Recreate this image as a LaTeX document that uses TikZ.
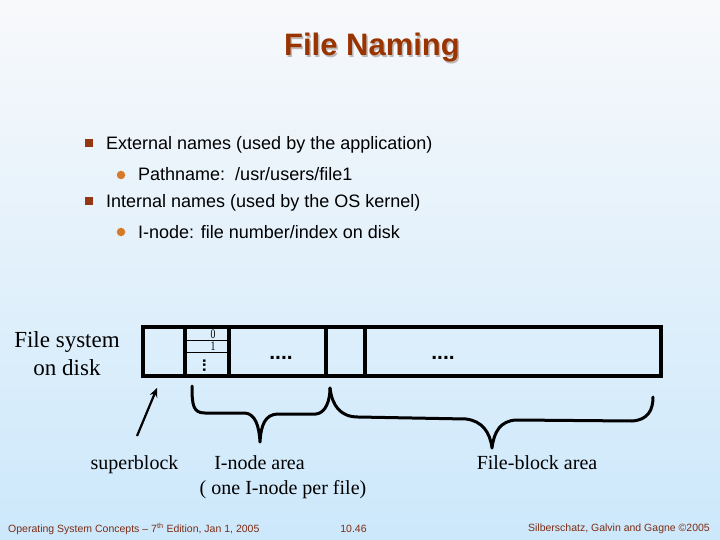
\documentclass[tikz,border=0pt]{standalone}
\usepackage{fontspec}
\setmainfont{Liberation Serif}
\newfontfamily\sansf{Liberation Sans}
\newfontfamily\seriff{Liberation Serif}
\usetikzlibrary{arrows.meta}
\definecolor{bgtop}{RGB}{248,249,251}
\definecolor{bgbot}{RGB}{204,232,251}
\definecolor{titlec}{RGB}{153,51,0}
\definecolor{shadowc}{RGB}{190,184,182}
\definecolor{sqc}{RGB}{150,55,20}
\definecolor{dotc}{RGB}{214,122,40}
\definecolor{footc}{RGB}{125,45,20}
\tikzset{
  txt/.style={inner sep=0pt, anchor=base west, font=\sansf\fontsize{18}{21}\selectfont},
  sqbullet/.style={fill=sqc, minimum size=8pt, inner sep=0pt, draw=none, rectangle},
  cirbullet/.style={fill=dotc, minimum size=8.5pt, inner sep=0pt, draw=none, circle},
  lbl/.style={inner sep=0pt, anchor=base, font=\seriff\fontsize{20}{24}\selectfont},
  foot/.style={inner sep=0pt, text=footc, font=\sansf\fontsize{10.5}{12}\selectfont},
  thick line/.style={line width=3.2pt, line cap=rect},
  bracestyle/.style={line width=3pt, line cap=round, line join=round},
  dotsty/.style={inner sep=0pt, font=\sansf\bfseries\fontsize{21}{21}\selectfont}
}
\begin{document}
\begin{tikzpicture}[x=1pt,y=-1pt]
\useasboundingbox (0,0) rectangle (720,540);
\shade[top color=bgtop, bottom color=bgbot] (0,0) rectangle (720,540);

% Title
\node[inner sep=0pt, anchor=base, text=shadowc, font=\sansf\bfseries\fontsize{31}{36}\selectfont] (titleshadow) at (373.5,57.5) {File Naming};
\node[inner sep=0pt, anchor=base, text=titlec, font=\sansf\bfseries\fontsize{31}{36}\selectfont] (title) at (372,56) {File Naming};

% Bullets
\node[sqbullet] (b1) at (89,143) {};
\node[txt] (t1) at (106,149.5) {External names (used by the application)};
\node[cirbullet] (c1) at (121,175) {};
\node[txt] (t2) at (138,181) {Pathname:\ \ /usr/users/file1};
\node[sqbullet] (b2) at (89,201) {};
\node[txt] (t3) at (106,207.5) {Internal names (used by the OS kernel)};
\node[cirbullet] (c2) at (121,232) {};
\node[txt] (t4) at (138,238.5) {I-node: file number/index on disk};

% File system on disk label
\node[lbl, font=\seriff\fontsize{23}{29}\selectfont] (fs1) at (67,347) {File system};
\node[lbl, font=\seriff\fontsize{23}{29}\selectfont] (fs2) at (67,375.5) {on disk};

% Disk layout
\draw[thick line] (143,327) rectangle (661,376);
\draw[thick line] (185,327) -- (185,376);
\draw[thick line] (229,327) -- (229,376);
\draw[thick line] (326,327) -- (326,376);
\draw[thick line] (365,327) -- (365,376);
\draw[line width=0.8pt] (185,340) -- (229,340);
\draw[line width=0.8pt] (185,352) -- (229,352);
\node[inner sep=0pt, xscale=0.75, font=\seriff\fontsize{13}{13}\selectfont] (zero) at (213,334.5) {0};
\node[inner sep=0pt, xscale=0.75, font=\seriff\fontsize{13}{13}\selectfont] (one) at (213,346.5) {1};
\node[dotsty, rotate=90, anchor=base, font=\sansf\bfseries\fontsize{17}{17}\selectfont] (vd) at (205.5,365.5) {...};
\node[dotsty, anchor=base] (hd1) at (281,359) {....};
\node[dotsty, anchor=base] (hd2) at (443,359) {....};

% Arrow to superblock
\coordinate (arrS) at (137,436);
\coordinate (arrE) at (157,388);
\draw[line width=2.2pt, -{Stealth[length=9pt,width=8pt]}] (arrS) -- (arrE);

% Braces
\draw[bracestyle] (192,386) .. controls (192,405) and (193,413) .. (205,413) -- (245,413)
  .. controls (255,414) and (259,425) .. (260,442)
  .. controls (261,425) and (265,415) .. (277,414) -- (316,414)
  .. controls (326,413) and (330,400) .. (330,388);
\draw[bracestyle] (330,388) .. controls (332,405) and (340,417) .. (358,417) -- (466,419)
  .. controls (482,421) and (490,432) .. (492,448)
  .. controls (494,432) and (500,421) .. (516,420) -- (632,421)
  .. controls (648,420) and (653,410) .. (653,397);

% Labels
\node[lbl] (sbl) at (134.5,469.5) {superblock};
\node[lbl] (inl) at (259.5,469.5) {I-node area};
\node[lbl] (inl2) at (283,494) {( one I-node per file)};
\node[lbl] (fbl) at (537,469.5) {File-block area};

% Footer
\node[foot, anchor=base west] (f1) at (8,532.5) {Operating System Concepts – 7\textsuperscript{th} Edition, Jan 1, 2005};
\node[foot, anchor=base] (f2) at (353.5,532.5) {10.46};
\node[foot, anchor=base east] (f3) at (710,531) {Silberschatz, Galvin and Gagne ©2005};
\end{tikzpicture}
\end{document}
